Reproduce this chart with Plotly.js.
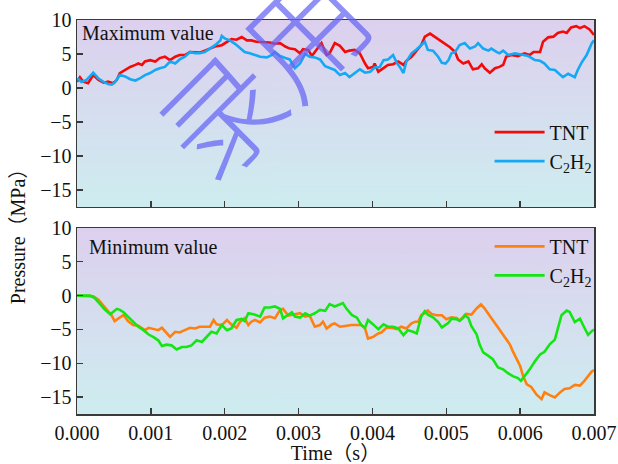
<!DOCTYPE html>
<html>
<head>
<meta charset="utf-8">
<script src="https://cdn.plot.ly/plotly-3.0.1.min.js"></script>
<style>html,body{margin:0;padding:0;background:#fff;}#chart{width:618px;height:464px;}</style>
</head>
<body>
<div id="chart"></div>
<script>
// ---- DATA (time in ms, pressure in MPa) ----
const maxTntT = [0,0.04,0.085,0.15,0.22,0.29,0.36,0.42,0.49,0.54,0.58,0.65,0.72,0.79,0.83,0.88,0.92,0.99,1.06,1.12,1.19,1.26,1.33,1.39,1.46,1.53,1.6,1.66,1.73,1.8,1.87,1.96,2.03,2.09,2.16,2.23,2.3,2.36,2.43,2.52,2.61,2.68,2.75,2.82,2.88,2.95,3.02,3.06,3.13,3.18,3.24,3.31,3.38,3.42,3.49,3.56,3.63,3.69,3.76,3.83,3.9,3.94,4.01,4.03,4.08,4.15,4.21,4.28,4.35,4.42,4.46,4.53,4.6,4.66,4.71,4.78,4.84,4.91,4.98,5.05,5.12,5.16,5.23,5.3,5.36,5.43,5.48,5.52,5.59,5.66,5.72,5.77,5.81,5.88,5.97,6.06,6.13,6.18,6.27,6.31,6.38,6.45,6.51,6.58,6.63,6.69,6.76,6.81,6.87,6.94,7.0];
const maxTntV = [0.93,1.57,0.93,0.69,1.9,1.2,0.78,0.93,0.69,1.2,2.2,2.65,3.1,3.4,3.6,3.4,3.9,4.1,3.9,4.4,4.6,4.1,4.6,4.85,4.85,5.3,5.3,5.2,5.5,5.8,6.1,6.3,6.8,7.2,7.1,7.5,7.0,7.0,6.8,6.75,6.7,6.5,6.6,6.1,5.8,5.7,5.1,5.7,5.6,4.7,5.6,6.6,4.85,5.1,6.6,6.2,5.3,5.5,5.6,5.1,3.6,2.9,3.1,3.6,2.4,2.9,3.4,3.5,3.9,3.4,4.0,4.6,5.6,6.3,7.55,8.0,7.55,7.06,6.57,6.0,5.3,4.2,3.6,3.9,2.75,2.9,3.5,2.9,2.25,2.9,3.1,3.4,4.6,4.85,4.7,5.1,4.85,5.3,5.3,6.8,7.45,7.55,8.1,8.3,8.1,8.9,9.1,8.8,9.1,8.6,7.8];

const maxC2h2T = [0,0.02,0.06,0.13,0.22,0.29,0.36,0.42,0.47,0.51,0.58,0.65,0.72,0.79,0.85,0.92,0.99,1.06,1.12,1.19,1.26,1.33,1.39,1.46,1.53,1.6,1.66,1.73,1.8,1.87,1.94,1.96,2.0,2.07,2.14,2.21,2.27,2.34,2.41,2.48,2.57,2.64,2.68,2.75,2.82,2.88,2.95,3.02,3.09,3.15,3.22,3.29,3.36,3.42,3.49,3.56,3.63,3.69,3.76,3.83,3.9,3.97,4.03,4.1,4.15,4.21,4.28,4.33,4.37,4.42,4.46,4.53,4.6,4.66,4.71,4.75,4.82,4.89,4.94,4.99,5.03,5.07,5.12,5.18,5.25,5.32,5.39,5.43,5.5,5.57,5.61,5.68,5.72,5.77,5.84,5.93,6.02,6.11,6.2,6.27,6.33,6.4,6.47,6.51,6.58,6.65,6.74,6.78,6.83,6.9,6.97,7.0];
const maxC2h2V = [1.2,1.3,0.9,1.2,2.25,1.4,0.9,0.6,0.5,0.8,1.9,1.7,1.3,1.1,1.4,1.9,2.2,2.65,2.9,3.1,3.9,3.6,4.2,4.6,5.3,5.1,5.1,5.3,5.8,6.3,7.0,7.65,7.3,7.0,6.5,5.8,5.3,5.1,4.85,4.6,4.5,4.85,5.3,4.7,4.4,4.2,2.9,3.6,5.0,4.6,4.5,4.2,3.2,2.9,2.65,1.9,2.2,1.6,2.2,2.75,2.25,2.4,3.0,3.1,4.1,4.2,4.85,3.7,3.1,2.2,3.9,5.1,5.7,6.3,6.8,5.6,5.5,4.6,3.7,3.6,4.1,5.1,5.3,6.3,6.6,5.8,6.1,6.6,5.8,5.5,5.8,5.3,5.1,5.5,4.85,5.1,4.85,4.7,4.1,4.0,3.6,2.75,2.65,2.25,1.6,2.1,1.6,2.65,3.7,4.85,6.6,7.0];

const minTntT = [0,0.06,0.15,0.22,0.29,0.36,0.42,0.47,0.51,0.56,0.63,0.69,0.76,0.83,0.88,0.92,0.97,1.03,1.1,1.15,1.21,1.26,1.33,1.39,1.46,1.53,1.6,1.66,1.73,1.8,1.85,1.89,1.96,2.03,2.09,2.16,2.21,2.27,2.32,2.36,2.41,2.48,2.54,2.61,2.68,2.75,2.79,2.86,2.95,3.02,3.09,3.15,3.22,3.29,3.33,3.38,3.45,3.49,3.56,3.63,3.72,3.79,3.85,3.9,3.94,4.01,4.08,4.12,4.19,4.26,4.33,4.39,4.46,4.53,4.58,4.62,4.66,4.71,4.75,4.8,4.87,4.94,5.0,5.07,5.14,5.18,5.23,5.27,5.34,5.41,5.47,5.52,5.59,5.66,5.72,5.79,5.86,5.9,5.95,6.0,6.04,6.09,6.15,6.22,6.29,6.33,6.4,6.47,6.54,6.6,6.67,6.74,6.81,6.87,6.97,7.0];
const minTntV = [0,0,0,-0.1,-0.6,-1.45,-2.25,-2.95,-3.75,-3.35,-2.85,-3.75,-4.35,-4.45,-4.85,-5.1,-4.75,-4.95,-5.1,-4.75,-5.45,-6.1,-5.35,-5.45,-5.1,-4.75,-4.85,-4.6,-4.6,-4.6,-3.6,-4.25,-4.35,-3.6,-4.25,-4.75,-3.85,-3.35,-4.35,-3.85,-3.6,-3.95,-3.25,-3.1,-3.35,-2.1,-1.95,-2.95,-2.75,-2.6,-3.1,-2.95,-4.6,-4.35,-3.85,-4.85,-4.25,-4.1,-4.6,-4.45,-4.35,-4.35,-4.35,-4.85,-6.35,-6.1,-5.6,-5.45,-4.75,-4.75,-4.95,-4.6,-4.85,-4.1,-3.85,-3.85,-2.9,-2.55,-2.2,-2.7,-2.9,-2.9,-3.5,-3.2,-3.3,-3.7,-3.2,-2.7,-2.8,-1.9,-1.3,-1.9,-3.0,-4.0,-5.0,-6.1,-7.2,-8.2,-9.4,-10.4,-11.9,-13.1,-13.5,-14.6,-15.3,-14.3,-14.7,-15.05,-14.3,-13.8,-13.7,-13.2,-13.3,-12.6,-11.2,-11.0];

const minC2h2T = [0,0.06,0.18,0.24,0.31,0.38,0.45,0.49,0.54,0.58,0.63,0.69,0.76,0.83,0.9,0.97,1.03,1.1,1.15,1.21,1.28,1.35,1.42,1.48,1.55,1.62,1.69,1.76,1.82,1.89,1.96,2.03,2.09,2.16,2.23,2.27,2.32,2.39,2.48,2.54,2.61,2.68,2.75,2.79,2.86,2.91,2.95,3.02,3.09,3.15,3.22,3.29,3.36,3.42,3.49,3.56,3.6,3.65,3.72,3.79,3.85,3.9,3.94,4.01,4.08,4.15,4.21,4.28,4.35,4.42,4.48,4.55,4.6,4.66,4.71,4.75,4.82,4.89,4.94,4.98,5.03,5.07,5.14,5.18,5.23,5.25,5.3,5.34,5.41,5.45,5.5,5.57,5.63,5.7,5.77,5.84,5.9,5.97,6.01,6.06,6.13,6.2,6.27,6.33,6.4,6.47,6.51,6.56,6.63,6.67,6.74,6.81,6.87,6.92,6.97,7.0];
const minC2h2V = [0,0,0,-0.35,-1.25,-2.1,-2.75,-2.45,-1.95,-2.1,-2.45,-3.1,-3.85,-4.6,-5.1,-5.75,-6.1,-6.6,-7.45,-7.25,-7.35,-7.95,-7.6,-7.6,-7.35,-6.6,-6.85,-6.1,-5.35,-5.6,-4.35,-5.1,-4.85,-3.6,-3.45,-3.75,-2.6,-2.75,-3.1,-1.75,-1.75,-1.6,-1.95,-3.35,-2.75,-2.45,-3.1,-3.25,-2.6,-2.95,-2.6,-2.1,-2.25,-1.25,-1.6,-1.25,-1.1,-1.95,-2.85,-3.25,-4.35,-4.75,-3.6,-4.25,-4.95,-4.25,-4.6,-4.6,-4.85,-5.85,-5.1,-5.35,-5.6,-3.1,-2.3,-2.8,-3.2,-3.9,-4.7,-4.4,-4.0,-3.4,-3.5,-3.7,-3.3,-2.9,-3.3,-4.5,-5.7,-7.2,-8.4,-8.9,-9.4,-10.6,-10.9,-11.5,-11.9,-12.2,-12.6,-11.9,-10.9,-9.7,-8.7,-8.3,-7.2,-6.5,-4.75,-2.9,-2.2,-2.4,-3.9,-3.4,-4.75,-5.8,-5.25,-5.0];

const seriesNames = ['TNT', 'C<sub>2</sub>H<sub>2</sub>'];
const xTickVals = [0, 0.001, 0.002, 0.003, 0.004, 0.005, 0.006, 0.007];
const yTickVals = [10, 5, 0, -5, -10, -15];
const panelLabels = ['Maximum value', 'Minimum value'];

const toSec = a => a.map(v => v / 1000);
const FONT = 'Liberation Serif, Times New Roman, Noto Sans CJK SC, serif';

// gradient background image
function gradientURL(){
  const c = document.createElement('canvas');
  c.width = 4; c.height = 200;
  const g = c.getContext('2d');
  const gr = g.createLinearGradient(0,0,0,200);
  gr.addColorStop(0, 'rgb(221,208,238)');
  gr.addColorStop(1, 'rgb(206,237,240)');
  g.fillStyle = gr; g.fillRect(0,0,4,200);
  return c.toDataURL();
}
const bg = gradientURL();

const topDom = [0.5254, 1];
const botDom = [0, 0.472];

const traces = [
  {x: toSec(maxTntT), y: maxTntV, name: seriesNames[0], xaxis:'x', yaxis:'y', mode:'lines', line:{color:'#f50a0a', width:2.6}, legend:'legend'},
  {x: toSec(maxC2h2T), y: maxC2h2V, name: seriesNames[1], xaxis:'x', yaxis:'y', mode:'lines', line:{color:'#14a8f5', width:2.6}, legend:'legend'},
  {x: toSec(minTntT), y: minTntV, name: seriesNames[0], xaxis:'x2', yaxis:'y2', mode:'lines', line:{color:'#ff800f', width:2.6}, legend:'legend2'},
  {x: toSec(minC2h2T), y: minC2h2V, name: seriesNames[1], xaxis:'x2', yaxis:'y2', mode:'lines', line:{color:'#14e614', width:2.6}, legend:'legend2'}
];

const axBase = {
  showline:true, mirror:true, linecolor:'#3a3a3a', linewidth:1.5,
  ticks:'inside', ticklen:6, tickwidth:1.3, tickcolor:'#3a3a3a',
  showgrid:false, zeroline:false,
  tickfont:{family:FONT, size:20, color:'#111'}
};

const legendBase = {
  font:{family:FONT, size:20, color:'#111'},
  bgcolor:'rgba(0,0,0,0)', borderwidth:0,
  xanchor:'right', x:1.005, yanchor:'top', itemwidth:50, tracegroupgap:0
};

const layout = {
  width:618, height:464,
  margin:{l:77, r:24, t:20, b:50},
  paper_bgcolor:'#ffffff', plot_bgcolor:'rgba(0,0,0,0)',
  font:{family:FONT, color:'#111'},
  xaxis: Object.assign({}, axBase, {domain:[0,1], anchor:'y', range:[0,0.007], tickvals:xTickVals, showticklabels:false, matches:'x2'}),
  yaxis: Object.assign({}, axBase, {domain:topDom, anchor:'x', range:[-17.5,10], tickvals:yTickVals}),
  xaxis2: Object.assign({}, axBase, {domain:[0,1], anchor:'y2', range:[0,0.007], tickvals:xTickVals, tickformat:'.3f',
    title:{text:'Time（s）', font:{family:FONT, size:20, color:'#111'}, standoff:2}}),
  yaxis2: Object.assign({}, axBase, {domain:botDom, anchor:'x2', range:[-17.5,10], tickvals:yTickVals}),
  showlegend:true,
  legend: Object.assign({}, legendBase, {y:0.765}),
  legend2: Object.assign({}, legendBase, {y:0.475}),
  images:[
    {source:bg, xref:'paper', yref:'paper', x:0, y:topDom[1], sizex:1, sizey:topDom[1]-topDom[0], sizing:'stretch', xanchor:'left', yanchor:'top', layer:'below'},
    {source:bg, xref:'paper', yref:'paper', x:0, y:botDom[1], sizex:1, sizey:botDom[1]-botDom[0], sizing:'stretch', xanchor:'left', yanchor:'top', layer:'below'}
  ],
  annotations:[
    {text:panelLabels[0], xref:'x domain', yref:'y domain', x:0.005, y:1.0, xanchor:'left', yanchor:'top', showarrow:false, font:{family:FONT, size:20, color:'#111'}},
    {text:panelLabels[1], xref:'x2 domain', yref:'y2 domain', x:0.02, y:0.97, xanchor:'left', yanchor:'top', showarrow:false, font:{family:FONT, size:20, color:'#111'}},
    {text:'Pressure（MPa）', xref:'paper', yref:'paper', x:-0.114, y:0.464, xanchor:'center', yanchor:'middle', textangle:-90, showarrow:false, font:{family:FONT, size:20, color:'#111'}},
    {text:'录用', xref:'paper', yref:'paper', x:0.352, y:0.875, xanchor:'center', yanchor:'middle', textangle:-45, showarrow:false, font:{family:'Noto Sans CJK SC', size:118, weight:300, color:'rgba(100,100,245,0.72)'}}
  ]
};

Plotly.newPlot('chart', traces, layout, {staticPlot:true, displayModeBar:false});
</script>
</body>
</html>
